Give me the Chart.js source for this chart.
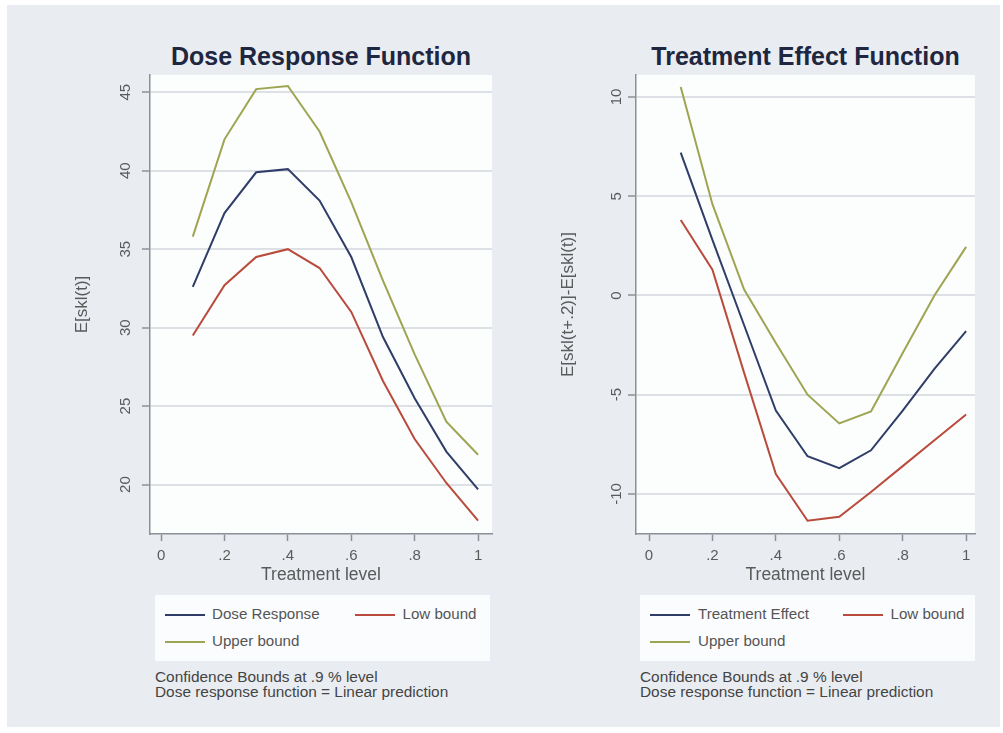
<!DOCTYPE html>
<html>
<head>
<meta charset="utf-8">
<script src="https://cdn.jsdelivr.net/npm/chart.js@4.4.0/dist/chart.umd.min.js"></script>
<style>
html,body{margin:0;padding:0;background:#ffffff;width:1003px;height:733px;overflow:hidden;}
#bg{position:absolute;left:7px;top:5px;width:993px;height:722px;background:#e9edf2;}
.cv{position:absolute;}
.ttl{position:absolute;font-family:"Liberation Sans",Arial,sans-serif;font-size:25px;font-weight:bold;color:#1f2640;text-align:center;white-space:nowrap;}
.legend{position:absolute;background:#fbfcfd;font-family:"Liberation Sans",Arial,sans-serif;font-size:14px;color:#555;}
.legend .ln{position:absolute;width:40px;height:2px;}
.legend .tx{position:absolute;white-space:nowrap;line-height:16px;transform:scaleX(1.08);transform-origin:left center;}
.legend .tx.r{transform-origin:right center;}
.note{position:absolute;font-family:"Liberation Sans",Arial,sans-serif;font-size:14px;color:#444;line-height:15px;white-space:nowrap;transform:scaleX(1.1);transform-origin:left top;}
</style>
</head>
<body>
<div id="bg"></div>
<div class="ttl" style="left:150px;top:42px;width:342px;">Dose Response Function</div>
<div class="ttl" style="left:636px;top:42px;width:339px;">Treatment Effect Function</div>
<canvas id="c1" class="cv" style="left:40px;top:30px;" width="470" height="560"></canvas>
<canvas id="c2" class="cv" style="left:530px;top:30px;" width="470" height="560"></canvas>

<div class="legend" style="left:155px;top:595px;width:335px;height:66px;">
  <div class="ln" style="left:10px;top:19px;background:#2f3d68;"></div><div class="tx" style="left:57px;top:11px;">Dose Response</div>
  <div class="ln" style="left:200px;top:19px;background:#b94b3c;"></div><div class="tx r" style="right:13px;top:11px;">Low bound</div>
  <div class="ln" style="left:10px;top:46px;background:#9ea552;"></div><div class="tx" style="left:57px;top:38px;">Upper bound</div>
</div>
<div class="legend" style="left:640px;top:595px;width:335px;height:66px;">
  <div class="ln" style="left:10px;top:19px;background:#2f3d68;"></div><div class="tx" style="left:58px;top:11px;">Treatment Effect</div>
  <div class="ln" style="left:203px;top:19px;background:#b94b3c;"></div><div class="tx r" style="right:10px;top:11px;">Low bound</div>
  <div class="ln" style="left:10px;top:46px;background:#9ea552;"></div><div class="tx" style="left:58px;top:38px;">Upper bound</div>
</div>
<div class="note" style="left:155px;top:670px;">Confidence Bounds at .9 % level<br>Dose response function = Linear prediction</div>
<div class="note" style="left:640px;top:670px;">Confidence Bounds at .9 % level<br>Dose response function = Linear prediction</div>

<script>
// ---- data ----
const treatment = [0.1, 0.2, 0.3, 0.4, 0.5, 0.6, 0.7, 0.8, 0.9, 1.0];

const doseResponse = [32.6, 37.3, 39.9, 40.1, 38.1, 34.5, 29.4, 25.5, 22.1, 19.7];
const doseLow      = [29.5, 32.7, 34.5, 35.0, 33.8, 31.0, 26.6, 22.9, 20.1, 17.7];
const doseUpper    = [35.8, 42.0, 45.2, 45.4, 42.5, 38.0, 33.0, 28.3, 24.0, 21.9];

const effect       = [7.2, 2.8, -1.5, -5.8, -8.1, -8.7, -7.8, -5.8, -3.7, -1.8];
const effectLow    = [3.8, 1.3, -3.9, -9.0, -11.35, -11.15, -9.9, -8.6, -7.3, -6.0];
const effectUpper  = [10.5, 4.6, 0.3, -2.4, -5.0, -6.45, -5.85, -2.9, 0.0, 2.45];

const xTickValues = [0, 0.2, 0.4, 0.6, 0.8, 1];
const xTickLabels = ['0', '.2', '.4', '.6', '.8', '1'];
const doseYTicks = [20, 25, 30, 35, 40, 45];
const effectYTicks = [-10, -5, 0, 5, 10];

const seriesNames1 = ['Dose Response', 'Low bound', 'Upper bound'];
const seriesNames2 = ['Treatment Effect', 'Low bound', 'Upper bound'];
const colors = ['#2f3d68', '#b94b3c', '#9ea552'];

// ---- helpers ----
const FONT = '"Liberation Sans", Arial, sans-serif';
const AXIS = '#8c9096';
const GRID = '#dde1e6';

function pts(ys) { return treatment.map((x, i) => ({x: x, y: ys[i]})); }

const plotBg = {
  id: 'plotBg',
  beforeDraw(chart) {
    const a = chart.chartArea, ctx = chart.ctx;
    ctx.save();
    ctx.fillStyle = '#fcfdfd';
    ctx.fillRect(a.left, a.top, a.right - a.left, a.bottom - a.top);
    ctx.restore();
  }
};

const rotYLabels = {
  id: 'rotYLabels',
  afterDraw(chart, args, opts) {
    const ys = chart.scales.y, ctx = chart.ctx;
    ctx.save();
    ctx.font = '15px ' + FONT;
    ctx.fillStyle = '#5a5a5a';
    ctx.textAlign = 'center';
    ctx.textBaseline = 'middle';
    ys.ticks.forEach(t => {
      const py = ys.getPixelForValue(t.value);
      ctx.save();
      ctx.translate(chart.chartArea.left - opts.offset, py);
      ctx.rotate(-Math.PI / 2);
      ctx.fillText(String(t.value), 0, 0);
      ctx.restore();
    });
    ctx.restore();
  }
};

function makeChart(id, names, series, yTicks, ycfg) {
  return new Chart(document.getElementById(id), {
    type: 'line',
    data: {
      datasets: series.map((s, i) => ({
        label: names[i],
        data: pts(s),
        borderColor: colors[i],
        borderWidth: 2,
        pointRadius: 0,
        tension: 0,
        fill: false
      }))
    },
    options: {
      responsive: false,
      animation: false,
      layout: {padding: {left: 0, right: ycfg.padRight, top: 45, bottom: 0}},
      plugins: {
        legend: {display: false},
        tooltip: {enabled: false},
        rotYLabels: {offset: ycfg.labelOffset}
      },
      scales: {
        x: {
          type: 'linear',
          min: ycfg.xmin, max: ycfg.xmax,
          afterBuildTicks: s => { s.ticks = xTickValues.map(v => ({value: v})); },
          afterFit: s => { s.height = 56; },
          ticks: {
            callback: (v, i) => xTickLabels[i],
            font: {size: 15, family: FONT}, color: '#5a5a5a',
            padding: 6, maxRotation: 0, autoSkip: false
          },
          grid: {drawOnChartArea: false, drawTicks: true, tickLength: 7, tickColor: AXIS, tickWidth: 1.5},
          border: {display: true, color: AXIS, width: 1.5},
          title: {display: true, text: 'Treatment level', font: {size: 17.5, family: FONT}, color: '#5a5a5a', padding: {top: 0, bottom: 4}}
        },
        y: {
          type: 'linear',
          min: ycfg.ymin, max: ycfg.ymax,
          afterBuildTicks: s => { s.ticks = yTicks.map(v => ({value: v})); },
          afterFit: s => { s.width = ycfg.yWidth; },
          ticks: {display: false},
          grid: {color: GRID, lineWidth: 2, drawTicks: true, tickLength: 8, tickColor: AXIS, tickWidth: 1.5},
          border: {display: true, color: AXIS, width: 1.5},
          title: {display: true, text: ycfg.title, font: {size: 17, family: FONT}, color: '#5a5a5a', padding: {top: ycfg.titlePad, bottom: 0}}
        }
      }
    },
    plugins: [plotBg, rotYLabels]
  });
}

makeChart('c1', seriesNames1, [doseResponse, doseLow, doseUpper], doseYTicks, {
  xmin: -0.035, xmax: 1.044, ymin: 16.85, ymax: 46.1,
  yWidth: 110, padRight: 18, labelOffset: 24, titlePad: 32, title: 'E[skl(t)]'
});

makeChart('c2', seriesNames2, [effect, effectLow, effectUpper], effectYTicks, {
  xmin: -0.041, xmax: 1.028, ymin: -12.02, ymax: 11.11,
  yWidth: 106, padRight: 25, labelOffset: 19, titlePad: 28, title: 'E[skl(t+.2)]-E[skl(t)]'
});
</script>
</body>
</html>
